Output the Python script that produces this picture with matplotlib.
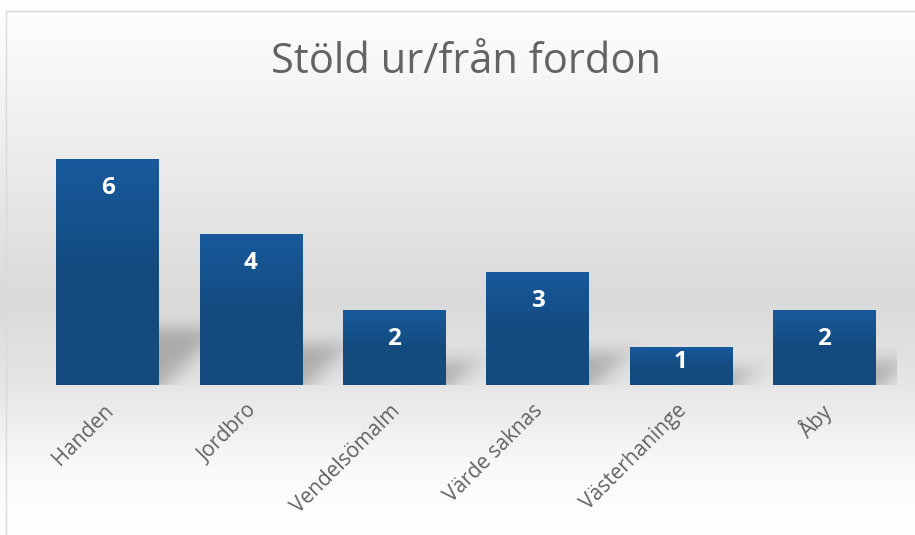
import numpy as np
import matplotlib
matplotlib.use("Agg")
import matplotlib.pyplot as plt
import matplotlib.transforms as trns
from matplotlib.colors import LinearSegmentedColormap
from matplotlib.patches import Rectangle

# chart data
TITLE = "Stöld ur/från fordon"
CATEGORIES = ["Handen", "Jordbro", "Vendelsömalm", "Värde saknas", "Västerhaninge", "Åby"]
VALUES = [6, 4, 2, 3, 1, 2]

TEXT_GREY = "#636363"
BAR_TOP = "#185a9c"
BAR_BOTTOM = "#134b7f"

plt.rcParams["font.family"] = ["Open Sans", "DejaVu Sans"]

fig = plt.figure(figsize=(9.15, 5.35), dpi=100)

# background: white -> grey -> white, vertical gradient, inside a thin frame
bg = fig.add_axes([0, 0, 1, 1], zorder=-10)
bg.set_axis_off()
stops_y = [0.0, 0.24, 0.56, 0.72, 0.88, 1.0]
stops_v = [1.0, 0.94, 0.855, 0.90, 0.98, 1.0]
yy = np.linspace(0, 1, 400)
col = np.interp(yy, stops_y, stops_v)
grad = np.repeat(col[:, None], 2, axis=1)
bg.imshow(np.dstack([grad, grad, grad]), extent=[0, 1, 1, 0], aspect="auto")
bg.set_xlim(0, 1)
bg.set_ylim(1, 0)
bg.add_patch(Rectangle((6 / 915, 11 / 535), 1.0, 1.0, fill=False, edgecolor="#d9d9d9", linewidth=1.0))

ax = fig.add_axes([36 / 915, 150 / 535, 860 / 915, 264 / 535])
ax.patch.set_alpha(0)
x = np.arange(len(CATEGORIES))
bars = ax.bar(x, VALUES, width=0.715, color=BAR_BOTTOM, zorder=3)

# gradient fill on each bar
cmap = LinearSegmentedColormap.from_list("bar", [BAR_BOTTOM, BAR_BOTTOM, BAR_TOP])
for b in bars:
    x0, w, h = b.get_x(), b.get_width(), b.get_height()
    g = np.linspace(0, 1, 100)[:, None]
    im = ax.imshow(g, cmap=cmap, extent=[x0, x0 + w, 0, h], origin="lower",
                   aspect="auto", zorder=4)
    im.set_clip_path(b)

# soft skewed shadow on the right of each bar
px_x = 860 / len(CATEGORIES)
px_y = 264 / 7
for b in bars:
    r, h = b.get_x() + b.get_width(), b.get_height()
    H = 0.22 * h * px_y + 7          # shadow height in px
    wpx, hpx = H + 25, H + 15
    xs = np.linspace(0, wpx, 90)
    ys = np.linspace(0, hpx, 90)
    X, Y = np.meshgrid(xs, ys)
    d_top = H - Y
    d_diag = (Y + 6 - X) / np.sqrt(2)
    a = 0.25 / (1 + np.exp(-d_top / 5.0)) / (1 + np.exp(-d_diag / 6.0))
    rgba = np.zeros(X.shape + (4,))
    rgba[..., 3] = a
    ax.imshow(rgba, extent=[r, r + wpx / px_x, 0, hpx / px_y], origin="lower",
              aspect="auto", zorder=2, interpolation="bilinear")

ax.set_xlim(-0.5, len(CATEGORIES) - 0.5)
ax.set_ylim(0, 7)

# value labels inside the bar ends
for xi, v in zip(x, VALUES):
    off = min(0.77, v - 0.62)
    ax.text(xi, v - off, str(v), ha="center", va="center", color="white",
            fontsize=17.5, fontweight="bold", zorder=6)

for s in ax.spines.values():
    s.set_visible(False)
ax.set_yticks([])
ax.set_xticks(x)
ax.set_xticklabels(CATEGORIES, rotation=45, ha="right", va="top",
                   rotation_mode="anchor", fontsize=15, color=TEXT_GREY)
ax.tick_params(axis="x", length=0, pad=11)
for label in ax.xaxis.get_majorticklabels():
    label.set_transform(label.get_transform() + trns.ScaledTranslation(-0.05, 0, fig.dpi_scale_trans))

fig.text(466 / 915, 1 - 62 / 535, TITLE, ha="center", va="center",
         fontsize=30, color=TEXT_GREY)

fig.savefig("out.png", dpi=100)
